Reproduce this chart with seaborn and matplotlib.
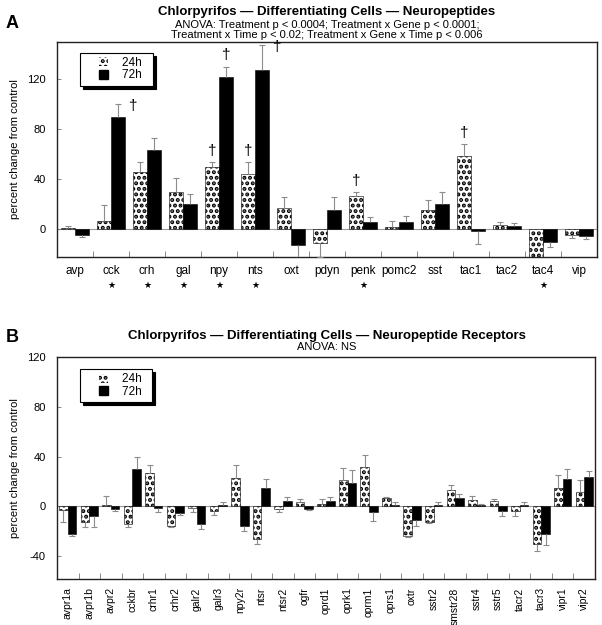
import numpy as np
import pandas as pd
import matplotlib
matplotlib.use("Agg")
import matplotlib.pyplot as plt
from matplotlib.patches import Patch, Rectangle
from matplotlib.legend_handler import HandlerPatch
import seaborn as sns

# ---------------- data ----------------
genes_a = ["avp", "cck", "crh", "gal", "npy", "nts", "oxt", "pdyn", "penk",
           "pomc2", "sst", "tac1", "tac2", "tac4", "vip"]
a_24h = [1, 6.4, 46, 30, 49.6, 44, 16.5, -11.5, 26.7, 1.6, 15.2, 58.4, 3.2, -25, -4.8]
a_24h_err = [1.7, 12.6, 8, 10.5, 4, 10, 9, 10.5, 2.6, 4.8, 8, 10, 2.1, 2.5, 2.7]
a_72h = [-4.8, 90, 63, 20, 122, 127, -12.8, 15.2, 5.3, 5.3, 20, -1.9, 2.4, -10.7, -5.9]
a_72h_err = [1.6, 10, 10, 8, 8, 20, 10, 10.8, 4.3, 5.1, 9.6, 10, 2.1, 3.3, 2.1]
a_daggers = [("cck", "72h"), ("npy", "24h"), ("npy", "72h"), ("nts", "24h"),
             ("nts", "72h"), ("penk", "24h"), ("tac1", "24h")]
a_dagger_side = [("cck", "72h"), ("nts", "72h")]
a_stars = ["cck", "crh", "gal", "npy", "nts", "penk", "tac4"]
a_yticks = [0, 40, 80, 120]

genes_b = ["avpr1a", "avpr1b", "avpr2", "cckbr", "crhr1", "crhr2", "galr2", "galr3",
           "npy2r", "ntsr", "ntsr2", "ogfr", "oprd1", "oprk1", "oprm1", "oprs1", "oxtr",
           "sstr2", "smstr28", "sstr4", "sstr5", "tacr2", "tacr3", "vipr1", "vipr2"]
b_24h = [-2.9, -12.3, 0.8, -13.9, 27, -15.5, -1, -3.7, 23, -26, -2.1, 3.2, 1.9, 20.8,
         32, 6.4, -23.5, -12.5, 13, 5, 4, -4, -30, 15, 11.5]
b_24h_err = [9.6, 4.5, 7.2, 2.9, 6.6, 1.3, 3.8, 3.5, 10, 4, 2.4, 2.7, 4, 10.2,
             9.6, 0.8, 1.5, 0.5, 4, 3.3, 1.9, 3.7, 5.7, 10, 9.5]
b_72h = [-22, -8, -2.1, 29.6, -1, -5, -13.9, 1, -16, 15, 4, -1.9, 4, 19,
         -4.3, 1, -11, 1, 7, 1, -4, 1, -22, 22, 23.7]
b_72h_err = [1.7, 8.3, 1.6, 10.4, 3.8, 2.2, 4, 2.2, 3.7, 6.6, 3.2, 1, 3.2, 9.8,
             7.7, 2.2, 5, 2.5, 3, 1, 3.7, 2.5, 8.7, 7.6, 4.3]
b_yticks = [-40, 0, 40, 80, 120]

times = ["24h", "72h"]

# ---------------- style ----------------
plt.rcParams["font.family"] = ["Liberation Sans", "DejaVu Sans"]
plt.rcParams["hatch.linewidth"] = 2.0
HATCH = "..."
ERRC = "#8c8c8c"

fig = plt.figure(figsize=(6.02, 6.25), dpi=100)
W, H = 602, 625


def px_axes(l, t, r, b):
    return fig.add_axes([l / W, 1 - b / H, (r - l) / W, (b - t) / H])


def right_square(legend, orig_handle, xdescent, ydescent, width, height, fontsize):
    return Rectangle((-xdescent + width - height, -ydescent), height, height)


def panel(ax, genes, v24, e24, v72, e72, ylim, yticks, rot, xfs, leg_top):
    n = len(genes)
    df = pd.DataFrame({
        "gene": genes * 2,
        "time": [times[0]] * n + [times[1]] * n,
        "value": list(v24) + list(v72),
        "err": list(e24) + list(e72),
    })
    sns.barplot(data=df, x="gene", y="value", hue="time", order=genes,
                hue_order=times, palette={"24h": "white", "72h": "black"},
                errorbar=None, width=0.8, edgecolor="black", linewidth=0.4,
                legend=False, ax=ax, zorder=2)
    for p in ax.containers[0]:
        p.set_hatch(HATCH)
    centers = {}
    for k, (t, vals, errs) in enumerate([(times[0], v24, e24), (times[1], v72, e72)]):
        for g, p, v, e in zip(genes, ax.containers[k], vals, errs):
            xc = p.get_x() + p.get_width() / 2
            end = v + e if v >= 0 else v - e
            centers[(g, t)] = (xc, end, p.get_x() + p.get_width())
            ax.vlines(xc, v, end, color=ERRC, lw=0.8, zorder=3)
            ax.plot([xc], [end], marker="_", ms=4.5, mew=0.8, color=ERRC, zorder=3)
    ax.axhline(0, color="#9a9a9a", lw=0.8, zorder=1)
    ax.set_xlim(-0.5, n - 0.5)
    ax.set_ylim(*ylim)
    ax.set_yticks(yticks)
    ax.set_yticklabels([str(v) for v in yticks], fontsize=8)
    ax.set_xticks(range(n))
    ax.set_xticklabels(genes, fontsize=xfs, rotation=rot)
    ax.set_xticks(np.arange(0.5, n - 1, 1.0), minor=True)
    ax.tick_params(axis="x", which="major", length=0, pad=6)
    ax.tick_params(axis="x", which="minor", direction="in", length=4, width=0.6, color="#777777")
    ax.tick_params(axis="y", which="major", direction="in", length=3, width=0.6,
                   color="#777777", pad=8)
    ax.set_xlabel("")
    ax.set_ylabel("percent change from control", fontsize=8)
    ax.yaxis.set_label_coords(-0.068, 0.5)
    for s in ax.spines.values():
        s.set_visible(True)
        s.set_color("#222222")
        s.set_linewidth(1.0)
    handles = [Patch(facecolor="white", edgecolor="black", hatch=HATCH, lw=0.0),
               Patch(facecolor="black", edgecolor="black")]
    hm = {h: HandlerPatch(patch_func=right_square) for h in handles}
    leg = ax.legend(handles, ["24h  ", "72h  "], loc="upper left", handler_map=hm,
                    bbox_to_anchor=(0.043, leg_top), borderaxespad=0, fontsize=8.5,
                    frameon=True, fancybox=False, edgecolor="black", framealpha=1,
                    handlelength=2.0, handleheight=0.8, handletextpad=1.2,
                    labelspacing=0.05, borderpad=0.35,
                    shadow={"ox": 2.2, "oy": -2.2, "facecolor": "black",
                            "edgecolor": "black", "alpha": 1})
    leg.get_frame().set_linewidth(0.8)
    return centers


# ---------------- panel A ----------------
axA = px_axes(57, 42, 597, 257)
cA = panel(axA, genes_a, a_24h, a_24h_err, a_72h, a_72h_err, (-22.4, 149.6),
           a_yticks, 0, 8.5, 0.95)
for key in a_daggers:
    xc, end, xr = cA[key]
    if key in a_dagger_side:
        axA.annotate("†", xy=(xr, end), xytext=(4, -2), textcoords="offset pixels",
                     ha="left", va="center", fontsize=11)
    else:
        axA.annotate("†", xy=(xc, end), xytext=(0, 11), textcoords="offset pixels",
                     ha="center", va="center", fontsize=11)
for g in a_stars:
    i = genes_a.index(g)
    axA.annotate("★", xy=(i, 0), xycoords=("data", "axes fraction"), xytext=(0, -28),
                 textcoords="offset pixels", ha="center", va="center", fontsize=6.5,
                 family="DejaVu Sans")

fig.text(327 / W, 1 - 12 / H, "Chlorpyrifos — Differentiating Cells — Neuropeptides",
         ha="center", va="center", fontsize=9.5, fontweight="bold")
fig.text(327 / W, 1 - 24.5 / H, "ANOVA: Treatment p < 0.0004; Treatment x Gene p < 0.0001;",
         ha="center", va="center", fontsize=8)
fig.text(327 / W, 1 - 35.5 / H, "Treatment x Time p < 0.02; Treatment x Gene x Time p < 0.006",
         ha="center", va="center", fontsize=8)
fig.text(12 / W, 1 - 24 / H, "A", ha="center", va="center", fontsize=13, fontweight="bold")

# ---------------- panel B ----------------
axB = px_axes(57, 357, 595, 579)
panel(axB, genes_b, b_24h, b_24h_err, b_72h, b_72h_err, (-58.4, 119.2),
      b_yticks, 90, 7.5, 0.945)
fig.text(327 / W, 1 - 336 / H, "Chlorpyrifos — Differentiating Cells — Neuropeptide Receptors",
         ha="center", va="center", fontsize=9.5, fontweight="bold")
fig.text(327 / W, 1 - 347 / H, "ANOVA: NS", ha="center", va="center", fontsize=8)
fig.text(12 / W, 1 - 338 / H, "B", ha="center", va="center", fontsize=13, fontweight="bold")

fig.savefig("out.png", dpi=100)
